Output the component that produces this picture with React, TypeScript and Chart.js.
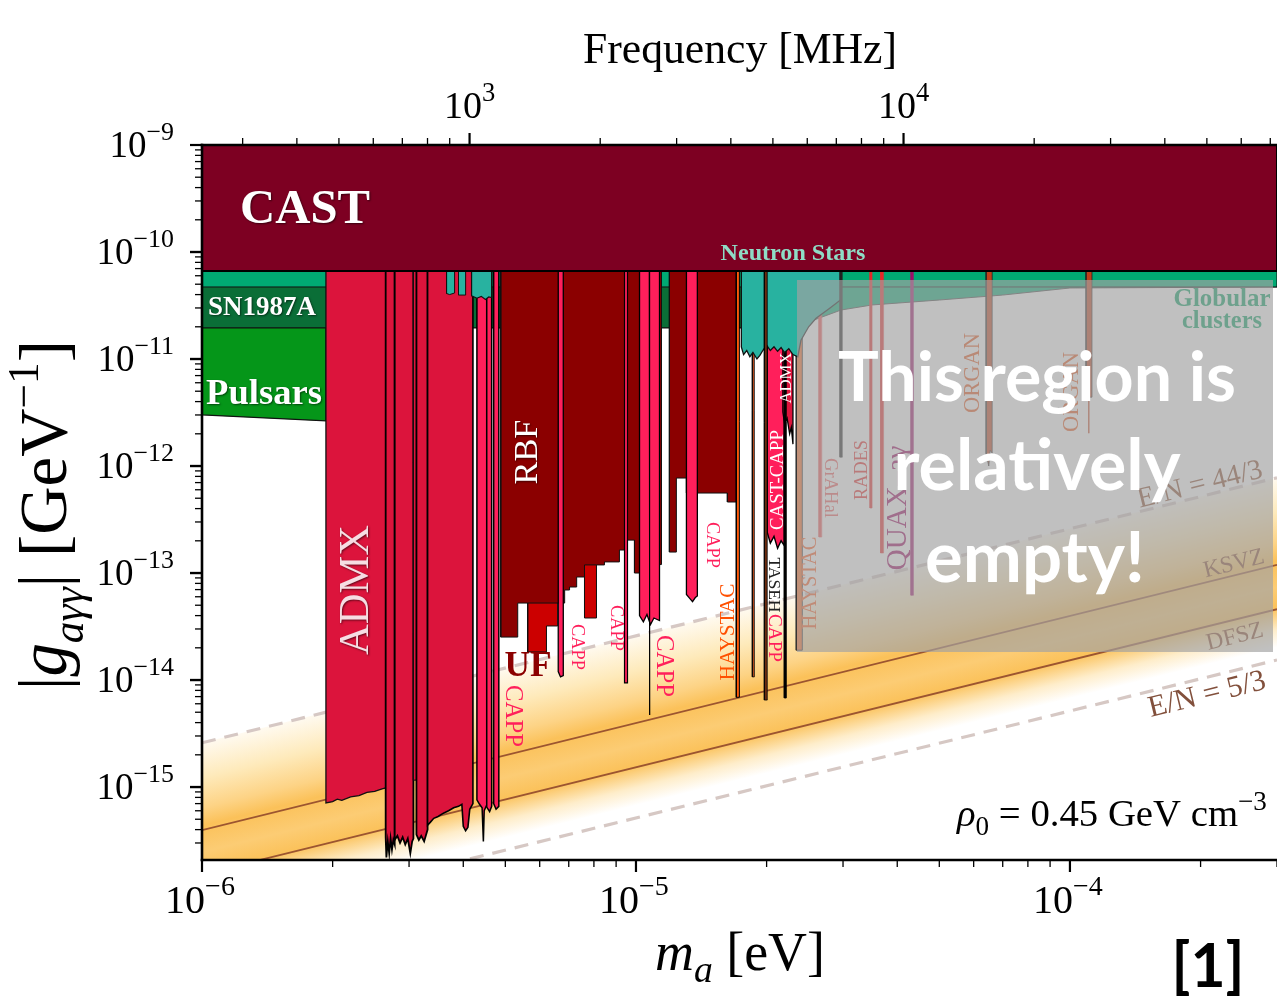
import React, { useEffect, useRef } from 'react';
import { Chart, registerables } from 'chart.js';

Chart.register(...registerables);

type P = [number, number];

// ---------- axes ----------
const MASS_RANGE: P = [1e-6, 3e-4];
const G_RANGE: P = [2.08e-16, 1e-9];
const MHZ_PER_EV = 2.418e8;
const massTickDecades = [-6, -5, -4];
const freqTickDecades = [2, 3, 4];
const gTickDecades = [-16, -15, -14, -13, -12, -11, -10];
const massLabelDecades = [-6, -5, -4];
const freqLabelDecades = [3, 4];
const gLabelDecades = [-9, -10, -11, -12, -13, -14, -15];

// ---------- QCD axion lines [mass eV, g GeV^-1] ----------
const lineEN443: P[] = [[1e-6, 2.59e-15], [3e-4, 7.77e-13]];
const lineKSVZ: P[] = [[1e-6, 3.96e-16], [3e-4, 1.19e-13]];
const lineDFSZ: P[] = [[1e-6, 1.53e-16], [3e-4, 4.59e-14]];
const lineEN53: P[] = [[1e-6, 5.14e-17], [3e-4, 1.54e-14]];

// ---------- astrophysical bounds (lower edges) ----------
const pulsarsEdge: P[] = [[1e-6, 3.0e-12], [1.93e-6, 2.64e-12]];
const sn1987aEdge: P[] = [[1e-6, 1.95e-11], [2.34e-5, 1.95e-11]];
const globularEdge: P[] = [[2.34e-5, 1.51e-11], [2.5e-5, 2.22e-11], [2.97e-5, 2.87e-11], [3.5e-5, 3.2e-11], [5e-5, 3.56e-11], [7e-5, 3.96e-11], [1e-4, 4.61e-11], [3e-4, 4.71e-11]];
const nsStripEdge: P[] = [[1e-6, 4.71e-11], [3e-4, 4.71e-11]];
const castEdge: P[] = [[1e-6, 6.64e-11], [3e-4, 6.64e-11]];
const teal1: P[] = [[3.66e-6, 4.1e-11], [3.72e-6, 4.0e-11], [3.82e-6, 4.14e-11]];
const teal2: P[] = [[3.9e-6, 3.96e-11], [4.05e-6, 3.96e-11]];
const teal3: P[] = [[4.18e-6, 3.9e-11], [4.3e-6, 3.7e-11], [4.4e-6, 3.85e-11], [4.5e-6, 3.6e-11], [4.58e-6, 3.8e-11], [4.65e-6, 3.75e-11]];
const teal4: P[] = [[1.749e-5, 1.3e-11], [1.77e-5, 1.1e-11], [1.8e-5, 1.2e-11], [1.83e-5, 1.05e-11], [1.86e-5, 1.15e-11], [1.9e-5, 1.0e-11], [1.93e-5, 1.08e-11], [1.96e-5, 1.2e-11], [2.0e-5, 1.35e-11], [2.04e-5, 1.2e-11], [2.08e-5, 1.3e-11], [2.12e-5, 1.18e-11], [2.16e-5, 1.28e-11], [2.2e-5, 1.15e-11], [2.25e-5, 1.25e-11], [2.3e-5, 1.1e-11], [2.36e-5, 1.05e-11], [2.4e-5, 1.5e-11], [2.5e-5, 2.0e-11], [2.6e-5, 2.4e-11], [2.8e-5, 3.0e-11], [2.97e-5, 3.6e-11]];

// ---------- haloscopes (lower edges) ----------
const uf1: P[] = [[5.63e-6, 1.83e-14], [6.22e-6, 1.83e-14], [6.22e-6, 3.2e-14], [6.6e-6, 3.2e-14]];
const uf2: P[] = [[7.61e-6, 3.8e-14], [8.11e-6, 3.8e-14]];
const rbfA: P[] = [[4.88e-6, 2.52e-14], [5.34e-6, 2.52e-14], [5.34e-6, 5.24e-14], [6.85e-6, 5.24e-14], [6.85e-6, 6.94e-14], [7.03e-6, 6.94e-14], [7.03e-6, 7.4e-14], [7.3e-6, 7.4e-14], [7.3e-6, 9.18e-14], [7.61e-6, 9.18e-14], [7.61e-6, 1.19e-13], [8.46e-6, 1.19e-13], [8.46e-6, 1.27e-13], [9.16e-6, 1.27e-13], [9.16e-6, 1.64e-13], [9.41e-6, 1.64e-13], [9.41e-6, 2.03e-13], [9.92e-6, 2.03e-13], [9.92e-6, 1.0e-13], [1.019e-5, 1.0e-13], [1.019e-5, 1.2e-13], [1.145e-5, 1.2e-13]];
const rbfB: P[] = [[1.194e-5, 1.57e-13], [1.239e-5, 1.57e-13], [1.239e-5, 7.72e-13], [1.307e-5, 7.72e-13], [1.307e-5, 5.59e-13], [1.624e-5, 5.59e-13], [1.624e-5, 4.61e-13], [1.703e-5, 4.61e-13]];
const admx1: P[] = [[1.93e-6, 7.1e-16], [2.0e-6, 7.3e-16], [2.05e-6, 7.7e-16], [2.1e-6, 7.5e-16], [2.2e-6, 8.1e-16], [2.3e-6, 8.3e-16], [2.4e-6, 8.9e-16], [2.5e-6, 9.1e-16], [2.6e-6, 9.6e-16], [2.65e-6, 9.8e-16]];
const admx2: P[] = [[2.65e-6, 3.4e-16], [2.66e-6, 2.2e-16], [2.68e-6, 3.1e-16], [2.7e-6, 2.4e-16], [2.72e-6, 3.3e-16], [2.74e-6, 2.6e-16], [2.76e-6, 3.2e-16], [2.78e-6, 2.9e-16]];
const admx3: P[] = [[2.78e-6, 3.2e-16], [2.82e-6, 3.5e-16], [2.86e-6, 3.0e-16], [2.9e-6, 3.4e-16], [2.94e-6, 2.9e-16], [2.98e-6, 3.3e-16], [3.02e-6, 2.4e-16], [3.05e-6, 3.1e-16], [3.07e-6, 3.3e-16]];
const admx3b: P[] = [[3.07e-6, 1.16e-15], [3.12e-6, 1.16e-15]];
const admx4: P[] = [[3.12e-6, 3.6e-16], [3.16e-6, 3.2e-16], [3.2e-6, 3.5e-16], [3.25e-6, 3.1e-16], [3.31e-6, 4.0e-16]];
const admx5: P[] = [[3.31e-6, 4.4e-16], [3.36e-6, 4.7e-16], [3.42e-6, 5.1e-16], [3.5e-6, 5.3e-16], [3.6e-6, 5.7e-16], [3.7e-6, 6.0e-16], [3.8e-6, 6.4e-16], [3.9e-6, 6.6e-16], [3.97e-6, 6.9e-16], [4.0e-6, 4.3e-16], [4.05e-6, 3.9e-16], [4.1e-6, 4.2e-16], [4.14e-6, 6.2e-16], [4.21e-6, 7.0e-16]];
const admx6: P[] = [[2.18e-5, 3.2e-12], [2.2e-5, 2.5e-12], [2.23e-5, 2.8e-12], [2.26e-5, 2.0e-12], [2.28e-5, 2.3e-12], [2.3e-5, 1.6e-12]];
const capp1: P[] = [[4.3e-6, 7.6e-16], [4.36e-6, 6.9e-16], [4.42e-6, 6.4e-16], [4.45e-6, 3.1e-16], [4.47e-6, 6.0e-16], [4.53e-6, 6.8e-16]];
const capp2: P[] = [[4.53e-6, 6.5e-16], [4.6e-6, 5.9e-16], [4.65e-6, 6.6e-16]];
const capp3: P[] = [[4.7e-6, 7.0e-16], [4.76e-6, 6.2e-16], [4.83e-6, 6.6e-16]];
const capp4: P[] = [[6.62e-6, 1.2e-14], [6.7e-6, 1.07e-14], [6.8e-6, 1.1e-14]];
const capp5: P[] = [[9.41e-6, 9.4e-15], [9.56e-6, 9.4e-15]];
const capp6: P[] = [[1.019e-5, 4.0e-14], [1.04e-5, 3.5e-14], [1.06e-5, 4.1e-14], [1.08e-5, 3.3e-14], [1.1e-5, 3.8e-14], [1.133e-5, 3.6e-14]];
const capp6Line: P[] = [[1.072e-5, 4.71e-15], [1.077e-5, 4.71e-15]];
const capp7: P[] = [[1.307e-5, 6.3e-14], [1.33e-5, 5.8e-14], [1.35e-5, 5.4e-14], [1.37e-5, 5.9e-14], [1.385e-5, 6.1e-14]];
const castCapp: P[] = [[2.007e-5, 2.4e-13], [2.04e-5, 1.9e-13], [2.08e-5, 2.2e-13], [2.12e-5, 1.7e-13], [2.16e-5, 2.0e-13], [2.197e-5, 1.8e-13]];
const cappLine2: P[] = [[2.197e-5, 6.8e-15], [2.22e-5, 6.8e-15]];
const haystac1: P[] = [[1.703e-5, 6.9e-15], [1.731e-5, 6.9e-15]];
const haystacLine: P[] = [[1.854e-5, 1.07e-14], [1.874e-5, 1.07e-14]];
const haystac2: P[] = [[2.341e-5, 1.9e-14], [2.417e-5, 1.9e-14]];
const tasehLine: P[] = [[1.976e-5, 6.5e-15], [2.007e-5, 6.5e-15]];
const grahal: P[] = [[2.64e-5, 2.17e-13], [2.68e-5, 2.17e-13]];
const darkLine: P[] = [[2.95e-5, 1.21e-12], [2.99e-5, 1.21e-12]];
const rades1: P[] = [[3.46e-5, 4.05e-13], [3.5e-5, 4.05e-13]];
const rades2: P[] = [[3.66e-5, 1.54e-13], [3.72e-5, 1.54e-13]];
const quax: P[] = [[4.3e-5, 6.2e-14], [4.36e-5, 6.2e-14]];
const organ1: P[] = [[6.41e-5, 1.3e-12], [6.5e-5, 1.0e-12], [6.55e-5, 1.4e-12], [6.62e-5, 1.32e-12]];
const organ2: P[] = [[1.089e-4, 4.4e-12], [1.124e-4, 4.4e-12]];
const organ2Thin: P[] = [[1.104e-4, 2.03e-12], [1.108e-4, 2.03e-12]];

const SERIF = '"Liberation Serif", "DejaVu Serif", serif';
const SANS = 'Lato, "Open Sans", sans-serif';

type Seg = { t: string; s?: number; dy?: number; it?: boolean; b?: boolean };
type TOpt = { x: number; y: number; size?: number; width?: number; align?: 'left' | 'center' | 'right'; rot?: number; color: string; fam?: string; shadow?: string; baseline?: CanvasTextBaseline };

function segFont(sg: Seg, size: number, fam: string) {
  return `${sg.it ? 'italic ' : ''}${sg.b ? 'bold ' : ''}${(sg.s ?? 1) * size}px ${fam}`;
}
function measure(ctx: CanvasRenderingContext2D, segs: Seg[], size: number, fam: string) {
  let w = 0;
  for (const sg of segs) { ctx.font = segFont(sg, size, fam); w += ctx.measureText(sg.t).width; }
  return w;
}
function T(ctx: CanvasRenderingContext2D, segs: Seg[], o: TOpt) {
  const fam = o.fam ?? SERIF;
  let size = o.size ?? 30;
  if (o.width) size = size * o.width / measure(ctx, segs, size, fam);
  const w = measure(ctx, segs, size, fam);
  ctx.save();
  ctx.translate(o.x, o.y);
  if (o.rot) ctx.rotate(o.rot * Math.PI / 180);
  ctx.textBaseline = o.baseline ?? 'middle';
  ctx.textAlign = 'left';
  ctx.fillStyle = o.color;
  if (o.shadow) { ctx.shadowColor = o.shadow; ctx.shadowBlur = 2; ctx.shadowOffsetX = 1; ctx.shadowOffsetY = 1; }
  let cx = o.align === 'left' ? 0 : o.align === 'right' ? -w : -w / 2;
  for (const sg of segs) {
    ctx.font = segFont(sg, size, fam);
    ctx.fillText(sg.t, cx, (sg.dy ?? 0) * size);
    cx += ctx.measureText(sg.t).width;
  }
  ctx.restore();
}
const pow = (e: number): Seg[] => [{ t: '10' }, { t: e < 0 ? '\u2212' + Math.abs(e) : String(e), s: 0.7, dy: -0.45 }];

const SH = 'rgba(0,0,0,0.55)';
const PINK = '#ff1f5b';

const decor = {
  id: 'decor',
  afterDatasetsDraw(chart: any) {
    const ctx: CanvasRenderingContext2D = chart.ctx;
    const xs = chart.scales.x, ys = chart.scales.y;
    T(ctx, [{ t: 'CAST', b: true }], { x: 305, y: 210, width: 130, color: '#fff', shadow: SH });
    T(ctx, [{ t: 'Neutron Stars', b: true }], { x: 793, y: 254, width: 145, color: '#8fdcc6' });
    T(ctx, [{ t: 'SN1987A', b: true }], { x: 262, y: 308, width: 108, color: '#fff', shadow: SH });
    T(ctx, [{ t: 'Pulsars', b: true }], { x: 264, y: 395, width: 116, color: '#fff', shadow: SH });
    T(ctx, [{ t: 'ADMX' }], { x: 357, y: 590, width: 130, rot: -90, color: '#f6dde3', shadow: SH });
    T(ctx, [{ t: 'RBF' }], { x: 528, y: 452, width: 65, rot: -90, color: '#fff', shadow: SH });
    T(ctx, [{ t: 'UF', b: true }], { x: 528, y: 667, width: 47, color: '#8b0000' });
    T(ctx, [{ t: 'CAPP' }], { x: 512, y: 716, width: 62, rot: 90, color: PINK });
    T(ctx, [{ t: 'CAPP' }], { x: 577, y: 647, width: 46, rot: 90, color: PINK });
    T(ctx, [{ t: 'CAPP' }], { x: 616, y: 628, width: 46, rot: 90, color: PINK });
    T(ctx, [{ t: 'CAPP' }], { x: 663, y: 666, width: 62, rot: 90, color: PINK });
    T(ctx, [{ t: 'CAPP' }], { x: 712, y: 545, width: 46, rot: 90, color: PINK });
    T(ctx, [{ t: 'HAYSTAC' }], { x: 728, y: 632, width: 97, rot: -90, color: '#ff5000' });
    T(ctx, [{ t: 'CAST-CAPP' }], { x: 778, y: 480, width: 100, rot: -90, color: '#fff' });
    T(ctx, [{ t: 'ADMX' }], { x: 787, y: 378, width: 51, rot: -90, color: '#fff' });
    T(ctx, [{ t: 'TASEH' }], { x: 774, y: 585, width: 55, rot: 90, color: '#222' });
    T(ctx, [{ t: 'CAPP' }], { x: 774, y: 638, width: 48, rot: 90, color: PINK });
    T(ctx, [{ t: 'HAYSTAC' }], { x: 811, y: 583, width: 93, rot: -90, color: '#ff5a1e' });
    T(ctx, [{ t: 'GrAHal' }], { x: 830, y: 488, width: 60, rot: 90, color: '#f05a5a' });
    T(ctx, [{ t: 'RADES' }], { x: 862, y: 470, width: 60, rot: -90, color: '#e82828' });
    T(ctx, [{ t: 'QUAX\u2013a\u03b3' }], { x: 898, y: 508, width: 125, rot: -90, color: '#9c005e' });
    T(ctx, [{ t: 'ORGAN' }], { x: 973, y: 373, width: 80, rot: -90, color: '#e8561a' });
    T(ctx, [{ t: 'ORGAN' }], { x: 1072, y: 392, width: 80, rot: -90, color: '#e8561a' });
    T(ctx, [{ t: 'Globular', b: true }], { x: 1222, y: 300, width: 97, color: '#00a060' });
    T(ctx, [{ t: 'clusters', b: true }], { x: 1222, y: 322, width: 80, color: '#00a060' });
    const ang = Math.atan2(ys.getPixelForValue(lineKSVZ[1][1]) - ys.getPixelForValue(lineKSVZ[0][1]), xs.getPixelForValue(lineKSVZ[1][0]) - xs.getPixelForValue(lineKSVZ[0][0])) * 180 / Math.PI;
    const BR = '#8a4a2a';
    T(ctx, [{ t: 'E/N = 44/3' }], { x: 1200, y: 485, width: 128, rot: ang, color: BR });
    T(ctx, [{ t: 'KSVZ' }], { x: 1234, y: 564, width: 62, rot: ang, color: BR });
    T(ctx, [{ t: 'DFSZ' }], { x: 1235, y: 637, width: 58, rot: ang, color: BR });
    ctx.save();
    ctx.fillStyle = 'rgba(162,162,162,0.68)';
    ctx.fillRect(797, 280, 476, 372);
    ctx.restore();
    T(ctx, [{ t: 'This region is', b: true }], { x: 1037, y: 401, width: 398, color: '#fff', fam: SANS, baseline: 'alphabetic' });
    T(ctx, [{ t: 'relatively', b: true }], { x: 1037, y: 490, width: 287, color: '#fff', fam: SANS, baseline: 'alphabetic' });
    T(ctx, [{ t: 'empty!', b: true }], { x: 1035, y: 582, width: 220, color: '#fff', fam: SANS, baseline: 'alphabetic' });
    T(ctx, [{ t: 'E/N = 5/3' }], { x: 1207, y: 695, width: 120, rot: ang, color: '#82503c' });
    T(ctx, [{ t: '\u03c1', it: true }, { t: '0', s: 0.7, dy: 0.22 }, { t: ' = 0.45 GeV cm' }, { t: '\u22123', s: 0.7, dy: -0.42 }], { x: 957, y: 826, width: 310, align: 'left', color: '#000', baseline: 'alphabetic' });
  },
  afterDraw(chart: any) {
    const ctx: CanvasRenderingContext2D = chart.ctx;
    const a = chart.chartArea;
    const xs = chart.scales.x, ys = chart.scales.y;
    const line = (x1: number, y1: number, x2: number, y2: number, w: number) => {
      ctx.lineWidth = w; ctx.beginPath(); ctx.moveTo(x1, y1); ctx.lineTo(x2, y2); ctx.stroke();
    };
    ctx.save();
    ctx.strokeStyle = '#000';
    for (const d of massTickDecades) for (let k = 1; k <= 9; k++) {
      const m = k * Math.pow(10, d);
      if (m < MASS_RANGE[0] * 0.999 || m > MASS_RANGE[1] * 1.001) continue;
      const px = xs.getPixelForValue(m);
      line(px, a.bottom, px, a.bottom + (k === 1 ? 12 : 7), k === 1 ? 2.2 : 1.3);
    }
    for (const d of freqTickDecades) for (let k = 1; k <= 9; k++) {
      const m = k * Math.pow(10, d) / MHZ_PER_EV;
      if (m < MASS_RANGE[0] || m > MASS_RANGE[1]) continue;
      const px = xs.getPixelForValue(m);
      line(px, a.top, px, a.top - (k === 1 ? 12 : 7), k === 1 ? 2.2 : 1.3);
    }
    for (const d of gTickDecades) for (let k = 1; k <= 10; k++) {
      const g = k * Math.pow(10, d);
      if (g < G_RANGE[0] || g > G_RANGE[1] * 1.001) continue;
      const py = ys.getPixelForValue(g);
      const major = k === 1 || k === 10;
      line(a.left, py, a.left - (major ? 12 : 7), py, major ? 2.2 : 1.3);
    }
    ctx.lineCap = 'square';
    line(a.left, a.top, a.left, a.bottom, 2.6);
    line(a.left, a.top, a.right, a.top, 2.6);
    line(a.left, a.bottom, a.right, a.bottom, 2.6);
    ctx.restore();
    for (const d of massLabelDecades) T(ctx, pow(d), { x: xs.getPixelForValue(Math.pow(10, d)) - 2, y: a.bottom + 53, size: 40, color: '#000', baseline: 'alphabetic' });
    for (const e of freqLabelDecades) T(ctx, pow(e), { x: xs.getPixelForValue(Math.pow(10, e) / MHZ_PER_EV), y: a.top - 27, size: 38, color: '#000', baseline: 'alphabetic' });
    for (const e of gLabelDecades) T(ctx, pow(e), { x: a.left - 28, y: ys.getPixelForValue(Math.pow(10, e)) + 12, size: 37, align: 'right', color: '#000', baseline: 'alphabetic' });
    T(ctx, [{ t: 'Frequency [MHz]' }], { x: 740, y: 63, width: 314, color: '#000', baseline: 'alphabetic' });
    T(ctx, [{ t: 'm', it: true }, { t: 'a', it: true, s: 0.7, dy: 0.22 }, { t: ' [eV]' }], { x: 740, y: 970, width: 170, color: '#000', baseline: 'alphabetic' });
    T(ctx, [{ t: '|' }, { t: 'g', it: true }, { t: 'a\u03b3\u03b3', it: true, s: 0.65, dy: 0.25 }, { t: '| [GeV' }, { t: '\u22121', s: 0.65, dy: -0.42 }, { t: ']' }], { x: 66, y: 515, width: 350, rot: -90, color: '#000', baseline: 'alphabetic' });
    T(ctx, [{ t: '[1]', b: true }], { x: 1208, y: 987, width: 73, color: '#000', fam: SANS, baseline: 'alphabetic' });
  },
};

function buildDatasets() {
  const ds: any[] = [];
  const pts = (arr: P[]) => arr.map(([x, y]) => ({ x, y }));
  const add = (d: any) => ds.push({ type: 'line', pointRadius: 0, tension: 0, clip: 0, borderJoinStyle: 'miter', ...d });
  const region = (arr: P[], color: string, border = '#111', bw = 1) => add({
    data: [{ x: arr[0][0], y: G_RANGE[1] }, ...pts(arr), { x: arr[arr.length - 1][0], y: G_RANGE[1] }],
    backgroundColor: color, borderColor: border, borderWidth: bw, fill: 'end',
  });

  add({
    data: pts(lineEN443), borderWidth: 0, fill: 1,
    backgroundColor: (c: any) => {
      const chart = c.chart;
      if (!chart.chartArea) return 'rgba(252,196,90,0.6)';
      const xs = chart.scales.x, ys = chart.scales.y;
      const X0 = xs.getPixelForValue(lineEN443[0][0]), X1 = xs.getPixelForValue(lineEN443[1][0]);
      const yT0 = ys.getPixelForValue(lineEN443[0][1]), yT1 = ys.getPixelForValue(lineEN443[1][1]);
      const yB0 = ys.getPixelForValue(lineEN53[0][1]);
      const yK = ys.getPixelForValue(lineKSVZ[0][1]), yD = ys.getPixelForValue(lineDFSZ[0][1]);
      const dx = X1 - X0, dy = yT1 - yT0, L = Math.hypot(dx, dy);
      const nx = -dy / L, ny = dx / L;
      const V = yB0 - yT0, d = V * ny;
      const g = chart.ctx.createLinearGradient(X0, yT0, X0 + nx * d, yT0 + ny * d);
      const fK = (yK - yT0) / V, fD = (yD - yT0) / V;
      g.addColorStop(0, '#fffaf0');
      g.addColorStop(fK * 0.4, '#feeabb');
      g.addColorStop(fK * 0.75, '#fdd385');
      g.addColorStop(fK * 0.95, '#fbc159');
      g.addColorStop(fK, '#fbc35e');
      g.addColorStop(fK + (fD - fK) * 0.5, '#fccc74');
      g.addColorStop(fD - 0.01, '#fbc25b');
      g.addColorStop(fD + (1 - fD) * 0.4, '#feedca');
      g.addColorStop(fD + (1 - fD) * 0.75, '#ffffff');
      g.addColorStop(1, '#ffffff');
      return g;
    },
  });
  add({ data: pts(lineEN53), borderWidth: 0, fill: false });
  add({ data: pts(lineEN443), borderColor: 'rgba(214,200,196,1)', borderWidth: 3.2, borderDash: [14, 9], fill: false });
  add({ data: pts(lineEN53), borderColor: 'rgba(214,200,196,1)', borderWidth: 3.2, borderDash: [14, 9], fill: false });
  add({ data: pts(lineKSVZ), borderColor: '#9c5530', borderWidth: 1.8, fill: false });
  add({ data: pts(lineDFSZ), borderColor: '#9c5530', borderWidth: 1.8, fill: false });

  region(pulsarsEdge, '#059619', '#111', 1.2);
  region(sn1987aEdge, '#0a6e37', '#111', 1.2);
  region(globularEdge, '#00aa73', '#444', 1);
  region(nsStripEdge, '#00aa73', '#111', 1);

  region(uf1, '#cc0000');
  region(uf2, '#cc0000');
  region(rbfA, '#8b0000');
  region(rbfB, '#8b0000');
  region(admx1, '#dc143c', '#111', 1.3);
  region(admx2, '#dc143c', '#000', 1.8);
  region(admx3, '#dc143c', '#000', 1.8);
  region(admx3b, '#dc143c');
  region(admx4, '#dc143c', '#000', 1.8);
  region(admx5, '#dc143c', '#000', 1.6);
  region(capp1, PINK, '#000', 1.5);
  region(capp2, PINK, '#000', 1.5);
  region(capp3, PINK, '#000', 1.5);
  region(capp4, PINK, '#000', 1.3);
  region(capp5, PINK, '#000', 1.2);
  region(capp6, PINK, '#000', 1.3);
  region(capp6Line, '#000', '#000', 1);
  region(capp7, PINK, '#000', 1.3);
  region(haystac1, '#ff5a0a', '#000', 1);
  region(haystacLine, '#c8501e', '#000', 0.8);
  region(castCapp, PINK, '#000', 1.4);
  region(admx6, '#dc143c', '#000', 1.3);
  region(cappLine2, '#000', '#000', 1);
  region(haystac2, '#ff6a20', '#333', 1);
  region(grahal, '#f05050', '#f05050', 0.6);
  region(teal1, '#28b2a0', '#111', 1);
  region(teal2, '#28b2a0', '#111', 1);
  region(teal3, '#28b2a0', '#111', 1.2);
  region(teal4, '#28b2a0', '#111', 1.3);
  region(tasehLine, '#6a2c10', '#000', 0.8);
  region(darkLine, '#222', '#222', 0.6);
  region(rades1, '#e82828', '#e82828', 0.6);
  region(rades2, '#e82828', '#e82828', 0.6);
  region(quax, '#a0106a', '#a0106a', 0.6);
  region(organ1, '#c0401a', '#222', 0.8);
  region(organ2, '#c0401a', '#222', 0.8);
  region(organ2Thin, '#c0401a', '#c0401a', 0.5);

  region(castEdge, '#7d0022', '#000', 2);

  const n = ds.length;
  ds.forEach((d, i) => { d.order = n - i; });
  return ds;
}

export default function App() {
  const ref = useRef<HTMLCanvasElement>(null);
  useEffect(() => {
    let chart: Chart | null = null;
    let cancelled = false;
    const fonts = ['30px "Liberation Serif"', 'bold 30px "Liberation Serif"', 'italic 30px "Liberation Serif"', 'bold 30px Lato'];
    Promise.all(fonts.map((f) => (document as any).fonts.load(f).catch(() => null))).catch(() => null).then(() => {
      if (cancelled || !ref.current) return;
      chart = new Chart(ref.current, {
        type: 'line',
        data: { datasets: buildDatasets() },
        options: {
          responsive: false,
          animation: false,
          events: [],
          layout: { padding: { left: 202, top: 145, right: 0, bottom: 138 } },
          plugins: { legend: { display: false }, tooltip: { enabled: false } },
          scales: {
            x: { type: 'logarithmic', min: MASS_RANGE[0], max: MASS_RANGE[1], display: false },
            y: { type: 'logarithmic', min: G_RANGE[0], max: G_RANGE[1], display: false },
          },
        } as any,
        plugins: [decor as any],
      });
    });
    return () => { cancelled = true; if (chart) chart.destroy(); };
  }, []);
  return (
    <div style={{ position: 'fixed', left: 0, top: 0, width: 1277, height: 998, background: '#fff' }}>
      <canvas ref={ref} width={1277} height={998} style={{ display: 'block' }} />
    </div>
  );
}
